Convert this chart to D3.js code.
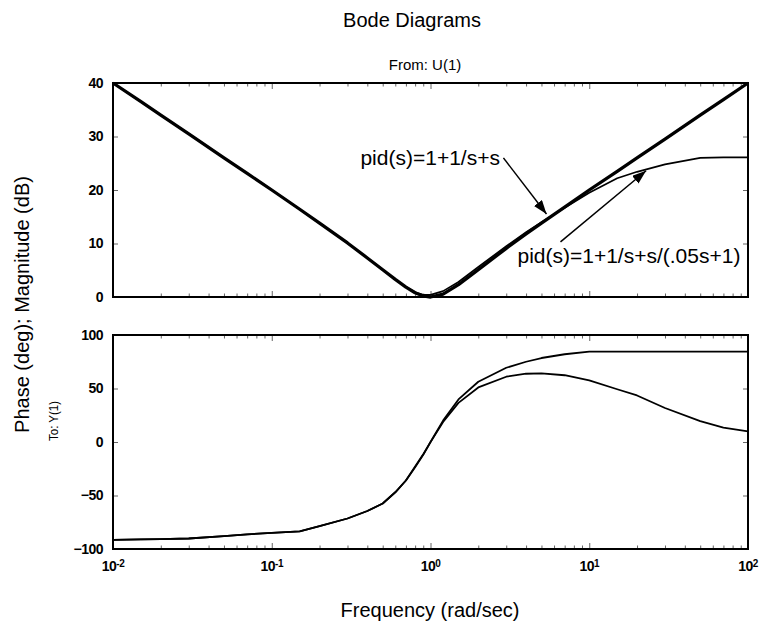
<!DOCTYPE html>
<html>
<head>
<meta charset="utf-8">
<script src="https://cdn.jsdelivr.net/npm/d3@7"></script>
<style>
  body { margin: 0; background: #fff; }
  svg { font-family: "Liberation Sans", Arial, sans-serif; }
</style>
</head>
<body>
<div id="chart"></div>
<script>
var freq = [0.01, 0.015, 0.02, 0.03, 0.05, 0.07, 0.1, 0.15, 0.2, 0.3, 0.4, 0.5, 0.6, 0.7, 0.8, 0.9,
    1, 1.2, 1.5, 2, 3, 4, 5, 7, 10, 15, 20, 30, 50, 70, 100];

// magnitude (dB)
var magPid = [40, 36.5, 34, 30.5, 26, 23.1, 20, 16.4, 13.8, 10.1, 7.3, 5.1, 3.3, 1.85, 0.8, 0.2,
    0, 0.55, 2.3, 5.1, 9.1, 11.8, 13.8, 16.8, 20, 23.5, 26, 29.5, 34, 36.9, 40];
var magPidFilt = [40, 36.5, 34, 30.5, 26, 23.1, 20, 16.4, 13.8, 10.1, 7.3, 5.1, 3.3, 1.9, 0.9, 0.4,
    0.4, 1.1, 2.8, 5.6, 9.5, 12.1, 14, 16.7, 19.5, 22.2, 23.4, 24.8, 26, 26.1, 26.1];

// phase (deg)
var phasePid = [-91.5, -91, -90.7, -90.2, -88, -86.3, -85, -83.5, -78.6, -71.5, -64.5, -57.5, -47, -36, -23.5, -12,
    0, 20, 39.8, 56.3, 69.4, 75, 78.5, 82, 84.4, 84.4, 84.4, 84.4, 84.4, 84.4, 84.4];
var phasePidFilt = [-91.5, -91, -90.7, -90.2, -88, -86.3, -85, -83.5, -78.6, -71.5, -64.5, -57.5, -47, -36, -23, -11.5,
    -0.1, 18.7, 36.6, 51, 61, 63.8, 64.2, 62.4, 57.5, 49.3, 43.5, 31.8, 19.5, 13.5, 10];

var magTicks = [0, 10, 20, 30, 40];
var phaseTicks = [-100, -50, 0, 50, 100];
var decades = [0.01, 0.1, 1, 10, 100];
var decadeExp = ["-2", "-1", "0", "1", "2"];

// annotations: text anchor, arrow tail, arrow tip (frequency, dB)
var notes = [
    { label: "pid(s)=1+1/s+s", text: [0.362, 24.7], tail: [2.88, 26], tip: [5.38, 15.5] },
    { label: "pid(s)=1+1/s+s/(.05s+1)", text: [3.53, 6.4], tail: [6.59, 10.3], tip: [22.8, 23.6] }
];

var W = 759, H = 628;
var left = 113, right = 748;
var magTop = 83, magBot = 297;
var phTop = 335, phBot = 549;

var svg = d3.select("#chart").append("svg")
    .attr("width", W)
    .attr("height", H);

svg.append("defs").append("marker")
    .attr("id", "arrow")
    .attr("viewBox", "0 0 14 10")
    .attr("refX", 14)
    .attr("refY", 5)
    .attr("markerWidth", 14)
    .attr("markerHeight", 10)
    .attr("markerUnits", "userSpaceOnUse")
    .attr("orient", "auto")
    .append("path")
    .attr("d", "M0,0 L14,5 L0,10 Z")
    .attr("fill", "#000");

var x = d3.scaleLog().domain([0.01, 100]).range([left, right]);
var yMag = d3.scaleLinear().domain([0, 40]).range([magBot, magTop]);
var yPh = d3.scaleLinear().domain([-100, 100]).range([phBot, phTop]);

var minor = x.ticks().filter(function (d) { return decades.indexOf(d) < 0; });

function frame(y, ticks, top, bot) {
    // minor ticks top and bottom, majors, then the y ticks on both sides
    var gMinTop = svg.append("g").attr("transform", "translate(0," + top + ")")
        .call(d3.axisTop(x).tickValues(minor).tickSize(-3.5).tickFormat(""));
    var gMinBot = svg.append("g").attr("transform", "translate(0," + bot + ")")
        .call(d3.axisBottom(x).tickValues(minor).tickSize(-3.5).tickFormat(""));
    var gMajTop = svg.append("g").attr("transform", "translate(0," + top + ")")
        .call(d3.axisTop(x).tickValues(decades).tickSize(-6).tickFormat(""));
    var gMajBot = svg.append("g").attr("transform", "translate(0," + bot + ")")
        .call(d3.axisBottom(x).tickValues(decades).tickSize(-6).tickFormat(""));
    var gL = svg.append("g").attr("transform", "translate(" + left + ",0)")
        .call(d3.axisLeft(y).tickValues(ticks).tickSize(-5).tickPadding(10));
    var gR = svg.append("g").attr("transform", "translate(" + right + ",0)")
        .call(d3.axisRight(y).tickValues(ticks).tickSize(-5).tickFormat(""));

    [gMinTop, gMinBot, gMajTop, gMajBot, gL, gR].forEach(function (g) {
        g.select(".domain").remove();
        g.selectAll(".tick line").attr("stroke", "#666").attr("stroke-width", 1);
    });
    gL.selectAll("text")
        .attr("font-size", 14)
        .attr("font-weight", "bold")
        .attr("letter-spacing", "-0.5px")
        .attr("font-family", "Liberation Sans, Arial, sans-serif")
        .attr("fill", "#000");

    svg.append("rect")
        .attr("x", left)
        .attr("y", top)
        .attr("width", right - left)
        .attr("height", bot - top)
        .attr("fill", "none")
        .attr("stroke", "#000")
        .attr("stroke-width", 2);
}

frame(yMag, magTicks, magTop, magBot);
frame(yPh, phaseTicks, phTop, phBot);

// x tick labels, 10 with superscript exponent
var xl = svg.append("g").selectAll("text")
    .data(decades)
    .join("text")
    .attr("x", function (d) { return x(d); })
    .attr("y", 571)
    .attr("text-anchor", "middle")
    .attr("font-size", 14)
    .attr("font-weight", "bold")
    .attr("letter-spacing", "-0.5px");
xl.append("tspan").text("10");
xl.append("tspan")
    .attr("font-size", 10)
    .attr("dy", -4)
    .text(function (d, i) { return decadeExp[i]; });

// curves
function series(vals) {
    return freq.map(function (f, i) { return [f, vals[i]]; });
}
var lineMag = d3.line().x(function (d) { return x(d[0]); }).y(function (d) { return yMag(d[1]); });
var linePh = d3.line().x(function (d) { return x(d[0]); }).y(function (d) { return yPh(d[1]); });

svg.append("path")
    .attr("d", lineMag(series(magPidFilt)))
    .attr("fill", "none").attr("stroke", "#000").attr("stroke-width", 1.7)
    .attr("stroke-linejoin", "round");
svg.append("path")
    .attr("d", lineMag(series(magPid)))
    .attr("fill", "none").attr("stroke", "#000").attr("stroke-width", 3.3)
    .attr("stroke-linejoin", "round");

svg.append("path")
    .attr("d", linePh(series(phasePidFilt)))
    .attr("fill", "none").attr("stroke", "#000").attr("stroke-width", 1.8)
    .attr("stroke-linejoin", "round");
svg.append("path")
    .attr("d", linePh(series(phasePid)))
    .attr("fill", "none").attr("stroke", "#000").attr("stroke-width", 1.8)
    .attr("stroke-linejoin", "round");

// annotations
notes.forEach(function (n) {
    svg.append("line")
        .attr("x1", x(n.tail[0])).attr("y1", yMag(n.tail[1]))
        .attr("x2", x(n.tip[0])).attr("y2", yMag(n.tip[1]))
        .attr("stroke", "#000").attr("stroke-width", 1.5)
        .attr("marker-end", "url(#arrow)");
    svg.append("text")
        .attr("x", x(n.text[0]))
        .attr("y", yMag(n.text[1]))
        .attr("font-size", 21)
        .text(n.label);
});

// titles and labels
svg.append("text")
    .attr("x", 412).attr("y", 27)
    .attr("text-anchor", "middle")
    .attr("font-size", 20)
    .text("Bode Diagrams");

svg.append("text")
    .attr("x", 425).attr("y", 70)
    .attr("text-anchor", "middle")
    .attr("font-size", 15)
    .text("From: U(1)");

svg.append("text")
    .attr("transform", "translate(29,304.5) rotate(-90)")
    .attr("text-anchor", "middle")
    .attr("font-size", 20)
    .text("Phase (deg); Magnitude (dB)");

svg.append("text")
    .attr("transform", "translate(58,421) rotate(-90)")
    .attr("text-anchor", "middle")
    .attr("font-size", 13)
    .attr("textLength", 40)
    .attr("lengthAdjust", "spacingAndGlyphs")
    .text("To: Y(1)");

svg.append("text")
    .attr("x", 430).attr("y", 617)
    .attr("text-anchor", "middle")
    .attr("font-size", 20)
    .text("Frequency (rad/sec)");
</script>
</body>
</html>
